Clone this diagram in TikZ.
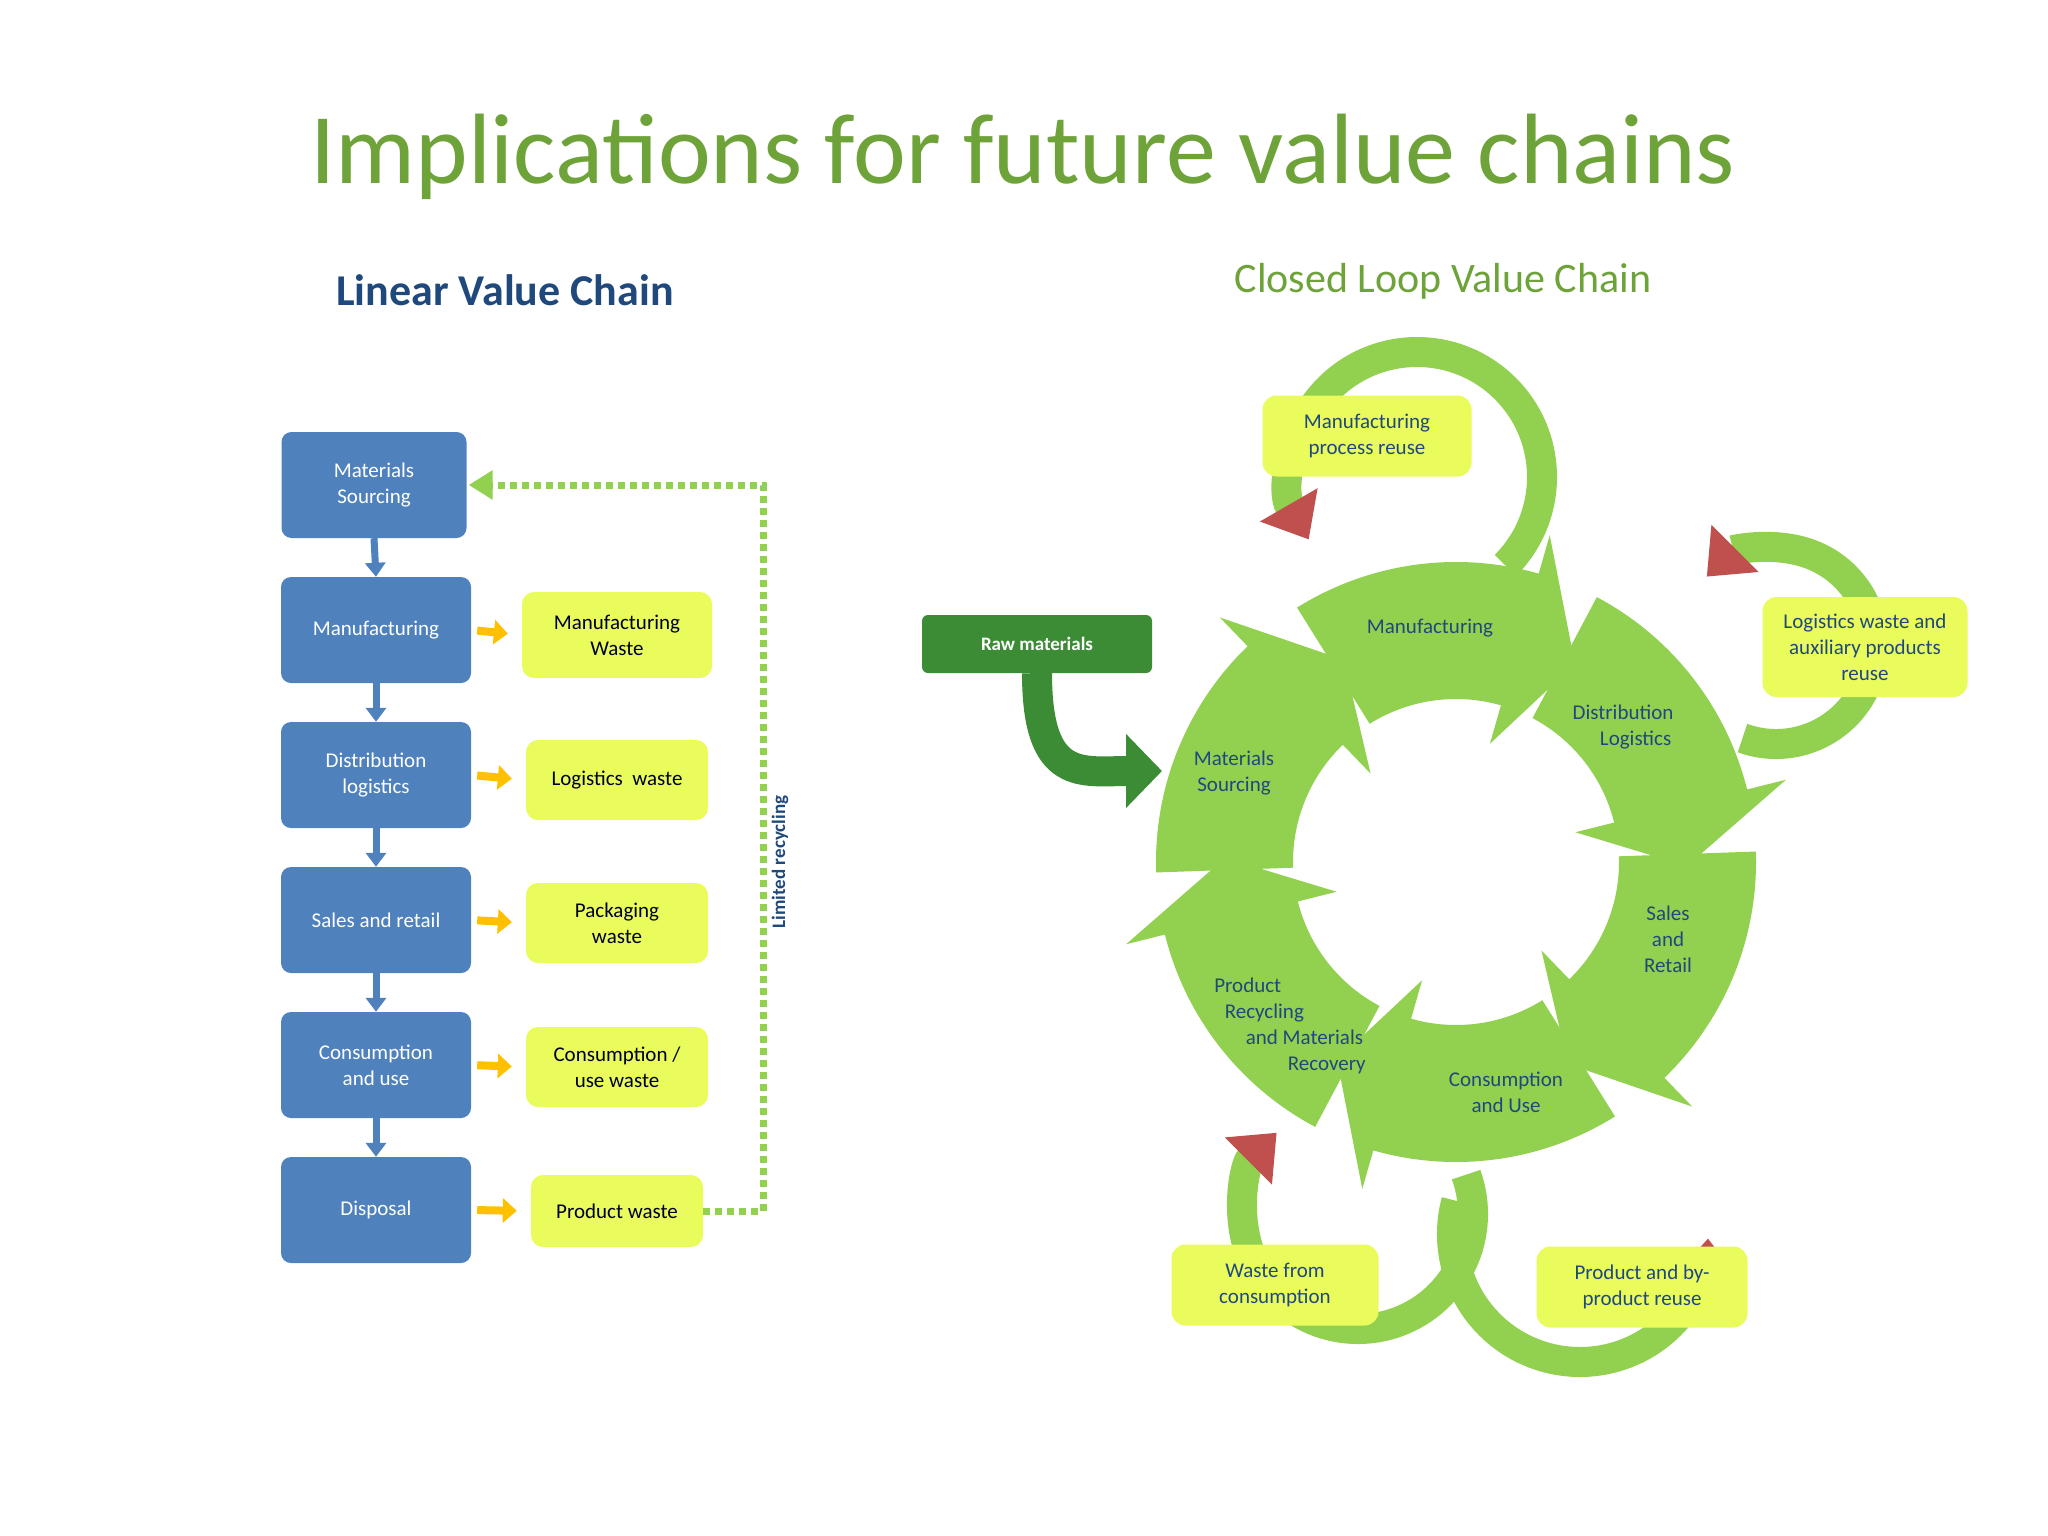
\documentclass[tikz,border=0pt]{standalone}
\usepackage{fontspec}
\setmainfont{Carlito}
\usetikzlibrary{arrows.meta}
\definecolor{cblue}{HTML}{4F81BD}
\definecolor{cyel}{HTML}{EAFB5C}
\definecolor{cgreen}{HTML}{92D050}
\definecolor{cdark}{HTML}{3B8C35}
\definecolor{ctitle}{HTML}{6EA33A}
\definecolor{cnavy}{HTML}{1F497D}
\definecolor{cred}{HTML}{C0504D}
\definecolor{corange}{HTML}{FFC000}
\newcommand\ringarrow[2]{\fill[cgreen] (#1:163) arc[start angle=#1,end angle=#2,radius=163] -- (#2:123) -- ({#2-15}:231) -- (#2:340) -- (#2:300) arc[start angle=#2,end angle=#1,radius=300] -- cycle;}
\begin{document}
\begin{tikzpicture}[x=1pt,y=-1pt,
 bbox/.style={rounded corners=10,fill=cblue,text=white,minimum width=190,minimum height=106,align=center,font=\fontsize{21}{26}\selectfont},
 ybox/.style={rounded corners=12,fill=cyel,text=black!85!blue,align=center,font=\fontsize{21}{26}\selectfont},
 note/.style={rounded corners=14,fill=cyel,text=cnavy,align=center,font=\fontsize{21}{26}\selectfont},
 seg/.style={text=cnavy,align=center,font=\fontsize{21}{26}\selectfont},
 barrow/.style={draw=cblue,line width=7,-{Triangle[width=20,length=14]}},
 oarrow/.style={draw=corange,line width=8,-{Triangle[width=24,length=14]},shorten <=6,shorten >=14},
 loopa/.style={draw=cgreen,line width=30,-{Triangle[width=64,length=40,color=cred]}}]
\useasboundingbox (0,0) rectangle (2048,1536);
\fill[white] (0,0) rectangle (2048,1536);
\node[text=ctitle,font=\fontsize{100}{110}\selectfont] (title) at (1023,157) {Implications for future value chains};
\node[text=cnavy,font=\bfseries\fontsize{44}{50}\selectfont] (lt) at (505,290) {Linear Value Chain};
\node[text=ctitle,font=\fontsize{42}{50}\selectfont] (ct) at (1443,281) {Closed Loop Value Chain};
% linear chain
\node[bbox,minimum width=185] (b1) at (374,485) {Materials\\Sourcing};
\node[bbox] (b2) at (376,630) {Manufacturing};
\node[bbox] (b3) at (376,775) {Distribution\\logistics};
\node[bbox] (b4) at (376,920) {Sales and retail};
\node[bbox] (b5) at (376,1065) {Consumption\\and use};
\node[bbox] (b6) at (376,1210) {Disposal};
\node[ybox,minimum width=190,minimum height=86] (y2) at (617,635) {Manufacturing\\Waste};
\node[ybox,minimum width=182,minimum height=80] (y3) at (617,780) {Logistics~~waste};
\node[ybox,minimum width=182,minimum height=80] (y4) at (617,923) {Packaging\\waste};
\node[ybox,minimum width=182,minimum height=80] (y5) at (617,1067) {Consumption /\\use waste};
\node[ybox,minimum width=172,minimum height=72] (y6) at (617,1211) {Product waste};
\foreach \a/\b in {b1/b2,b2/b3,b3/b4,b4/b5,b5/b6} \draw[barrow] (\a.south) -- (\b.north);
\foreach \a/\b in {b2/y2,b3/y3,b4/y4,b5/y5,b6/y6} \draw[oarrow] (\a.east) -- (\b.west);
\coordinate (d1) at (763,1211);
\coordinate (d2) at (763,485);
\draw[draw=cgreen,line width=7,dash pattern=on 7pt off 5pt,-{Triangle[width=28,length=24]},shorten >=2] (y6.east) -- (d1) -- (d2) -- (b1.east);
\node[rotate=90,text=cnavy,font=\bfseries\fontsize{19}{22}\selectfont] (lr) at (780,862) {Limited recycling};
% closed loop
\node[text=black,font=\fontsize{20}{24}\selectfont] (rev) at (1238,917) {Reverse};
\begin{scope}[shift={(1417,477)},yscale=-1]
 \draw[loopa] (-45:125) arc[start angle=-45,end angle=210,radius=125];
\end{scope}
\begin{scope}[shift={(1776,646)},yscale=-1]
 \draw[loopa] (-110:98) arc[start angle=-110,end angle=135,radius=98];
\end{scope}
\begin{scope}[shift={(1358,1214)},yscale=-1]
 \draw[loopa] (20:115) arc[start angle=20,end angle=-225,radius=115];
\end{scope}
\begin{scope}[shift={(1580,1234)},yscale=-1]
 \draw[loopa] (165:128) arc[start angle=165,end angle=358,radius=128];
\end{scope}
\begin{scope}[shift={(1456,862)},yscale=-1]
 \ringarrow{122}{74}
 \ringarrow{62}{14}
 \ringarrow{2}{-46}
 \ringarrow{-58}{-106}
 \ringarrow{-118}{-166}
 \ringarrow{-178}{-226}
\end{scope}
\node[seg] (sm) at (1430,628) {Manufacturing};
\node[seg] (sd) at (1623,727) {Distribution\\\hspace*{1.2em}Logistics};
\node[seg] (ss) at (1234,773) {Materials\\Sourcing};
\node[seg] (sr) at (1668,939) {Sales\\and\\Retail};
\node[seg,align=left] (sp) at (1290,1026) {Product\\\hspace*{0.5em}Recycling\\\hspace*{1.5em}and Materials\\\hspace*{3.5em}Recovery};
\node[seg] (sc) at (1506,1092) {Consumption\\and Use};
\node[rounded corners=6,fill=cdark,text=white,minimum width=230,minimum height=58,font=\bfseries\fontsize{19}{22}\selectfont] (raw) at (1037,644) {Raw materials};
\coordinate (rawtip) at (1162,771);
\draw[draw=cdark,line width=30,-{Triangle[width=72,length=36]}] (raw.south) .. controls +(0,110) and +(-80,0) .. (rawtip);
\node[note,minimum width=209,minimum height=81] (n1) at (1367,436) {Manufacturing\\process reuse};
\node[note,minimum width=205,minimum height=100] (n2) at (1865,647) {Logistics waste and\\auxiliary products\\reuse};
\node[note,minimum width=207,minimum height=81] (n3) at (1275,1285) {Waste from\\consumption};
\node[note,minimum width=211,minimum height=81] (n4) at (1642,1287) {Product and by-\\product reuse};
\end{tikzpicture}
\end{document}
